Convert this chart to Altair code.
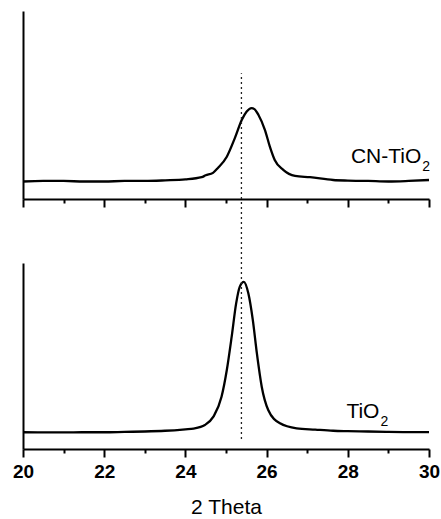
import altair as alt
import pandas as pd

# --- data (2-theta in degrees, intensity in arbitrary units 0-100 per panel)
cn_x = [20.0, 20.5, 21.0, 21.5, 22.0, 22.5, 23.0, 23.5, 24.0, 24.4, 24.5, 24.68, 24.8, 25.02,
        25.22, 25.39, 25.51, 25.63, 25.7, 25.8, 25.96, 26.08, 26.2, 26.41, 26.7, 27.07,
        27.64, 28.0, 28.5, 29.0, 29.5, 30.0]
cn_y = [9.3, 9.6, 9.6, 9.3, 9.3, 9.6, 9.6, 9.9, 10.4, 11.6, 12.6, 13.9, 16.5, 22.5,
        32.5, 42.1, 46.5, 48.3, 47.8, 44.7, 36.7, 27.9, 20.8, 15.5, 12.3, 11.6,
        10.1, 9.8, 9.6, 9.3, 9.6, 10.1]

ti_x = [20.0, 20.5, 21.0, 21.5, 22.0, 22.5, 23.0, 23.5, 24.0, 24.2, 24.48, 24.69, 24.89,
        25.02, 25.14, 25.25, 25.34, 25.44, 25.55, 25.66, 25.76, 25.88, 26.04, 26.33,
        26.74, 27.2, 27.64, 28.0, 28.5, 29.0, 29.5, 30.0]
ti_y = [9.0, 8.9, 8.9, 9.0, 9.0, 9.2, 9.4, 9.8, 10.6, 11.0, 12.9, 17.4, 28.1,
        42.5, 60.4, 78.3, 87.3, 89.9, 83.7, 69.4, 51.5, 33.5, 21.0, 13.8,
        11.1, 10.4, 9.8, 9.6, 9.4, 9.2, 9.1, 9.1]

peak_ref = [25.38]          # dotted reference position
ref_bottom = [5.4]          # lower end of reference line (bottom panel units)
ref_top = [202.0]           # upper end, reaches into the upper panel

major_ticks = [20, 22, 24, 26, 28, 30]
minor_ticks = [21, 23, 25, 27, 29]

labels_top = {"main": ["CN-TiO"], "sub": ["2"], "x": [29.81], "y": [19.0], "ysub": [14.9]}
labels_bot = {"main": ["TiO"], "sub": ["2"], "x": [28.78], "y": [16.5], "ysub": [12.4]}

FONT = "Liberation Sans"
W = 406

xscale = alt.Scale(domain=[20, 30], nice=False, zero=False)


def panel(xs, ys, lab, height, show_labels, extra=None):
    df = pd.DataFrame({"x": xs, "y": ys})
    yscale = alt.Scale(domain=[0, 100], nice=False, zero=False)
    yaxis = alt.Axis(labels=False, ticks=False, title=None, grid=False,
                     domainColor="black", domainWidth=2)
    major_axis = alt.Axis(values=major_ticks, tickSize=8, tickWidth=2, tickColor="black",
                          domainColor="black", domainWidth=2, grid=False,
                          labels=show_labels, labelFont=FONT, labelFontSize=19,
                          labelFontWeight="bold", labelColor="black", labelPadding=5,
                          labelFlush=False,
                          title="2 Theta" if show_labels else None,
                          titleFont=FONT, titleFontSize=21, titleFontWeight="normal",
                          titleColor="black", titlePadding=15, orient="bottom")
    minor_axis = alt.Axis(values=minor_ticks, tickSize=4, tickWidth=2, tickColor="black",
                          domain=False, grid=False, labels=False, title=None, orient="bottom")

    line = alt.Chart(df).mark_line(color="black", strokeWidth=2.3, interpolate="monotone").encode(
        x=alt.X("x:Q", scale=xscale, axis=major_axis),
        y=alt.Y("y:Q", scale=yscale, axis=yaxis),
    )
    minor = alt.Chart(df).mark_point(opacity=0).encode(
        x=alt.X("x:Q", scale=xscale, axis=minor_axis),
        y=alt.Y("y:Q", scale=yscale),
    )
    ldf = pd.DataFrame(lab)
    main_txt = alt.Chart(ldf).mark_text(align="right", baseline="alphabetic", font=FONT,
                                        fontSize=21, color="black").encode(
        x=alt.X("x:Q", scale=xscale, axis=None),
        y=alt.Y("y:Q", scale=yscale), text="main:N")
    sub_txt = alt.Chart(ldf).mark_text(align="left", baseline="alphabetic", font=FONT,
                                       fontSize=14, color="black", dx=1).encode(
        x=alt.X("x:Q", scale=xscale, axis=None),
        y=alt.Y("ysub:Q", scale=yscale), text="sub:N")
    layers = [line, minor, main_txt, sub_txt]
    if extra is not None:
        layers.append(extra(yscale))
    return alt.layer(*layers).resolve_axis(x="independent").properties(width=W, height=height)


def ref_rule(yscale):
    rdf = pd.DataFrame({"x": peak_ref, "y": ref_bottom, "y2": ref_top})
    return alt.Chart(rdf).mark_rule(color="#222222", strokeWidth=1.3, strokeDash=[2, 3]).encode(
        x=alt.X("x:Q", scale=xscale, axis=None),
        y=alt.Y("y:Q", scale=yscale),
        y2="y2:Q",
    )


top = panel(cn_x, cn_y, labels_top, 188, False)
bottom = panel(ti_x, ti_y, labels_bot, 186, True, extra=ref_rule)

chart = alt.vconcat(top, bottom, spacing=64, bounds="flush").properties(
    padding={"left": 12, "top": 11, "right": 0, "bottom": 0}
).configure_view(stroke=None)

chart.save("out.html", embed_options={"renderer": "svg", "actions": False})
